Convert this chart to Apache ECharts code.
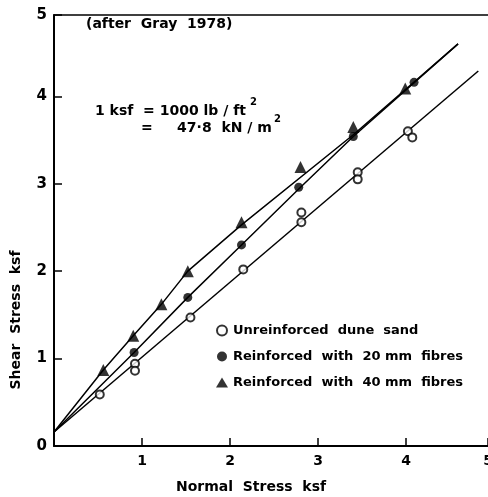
<!DOCTYPE html>
<html>
<head>
<meta charset="utf-8">
<script src="https://cdn.jsdelivr.net/npm/echarts@6/dist/echarts.min.js"></script>
<style>
  html, body { margin: 0; padding: 0; background: #fff; }
  #chart { width: 488px; height: 497px; }
</style>
</head>
<body>
<div id="chart"></div>
<script>
// measured points (normal stress, shear stress), ksf
var unX = [0.52, 0.92, 0.92, 1.55, 2.15, 2.81, 2.81, 3.45, 3.45, 4.02, 4.07];
var unY = [0.59, 0.94, 0.86, 1.47, 2.02, 2.67, 2.56, 3.13, 3.05, 3.60, 3.53];
var r20X = [0.91, 1.52, 2.13, 2.78, 3.40, 4.09];
var r20Y = [1.07, 1.70, 2.30, 2.96, 3.54, 4.16];
var r40X = [0.56, 0.90, 1.22, 1.52, 2.13, 2.80, 3.40, 3.99];
var r40Y = [0.87, 1.26, 1.62, 2.00, 2.56, 3.19, 3.65, 4.09];

// drawn fit lines
var fitUnX = [0, 4.82];
var fitUnY = [0.16, 4.29];
var fit20X = [0, 0.91, 1.52, 2.13, 2.78, 3.40, 4.59];
var fit20Y = [0.16, 1.07, 1.70, 2.30, 2.94, 3.54, 4.60];
var fit40X = [0, 0.56, 0.90, 1.22, 1.52, 2.13, 3.40, 4.59];
var fit40Y = [0.16, 0.87, 1.26, 1.62, 2.00, 2.53, 3.56, 4.60];

var legendNames = ['Unreinforced  dune  sand', 'Reinforced  with  20 mm  fibres', 'Reinforced  with  40 mm  fibres'];

function pairs(xs, ys) {
  return xs.map(function (x, i) { return [x, ys[i]]; });
}

var ink = '#000';
var font = 'DejaVu Sans';

var chart = echarts.init(document.getElementById('chart'));
var option = {
  backgroundColor: '#fff',
  animation: false,
  grid: { left: 54, right: 0, top: 15, bottom: 51, outerBoundsMode: 'none', containLabel: false },
  xAxis: [{
    type: 'value', min: 0, max: 4.93, interval: 1,
    axisLine: { lineStyle: { color: ink, width: 2 } },
    axisTick: { inside: true, length: 8, lineStyle: { color: ink, width: 1.5 } },
    splitLine: { show: false },
    axisLabel: {
      color: ink, fontSize: 14, fontFamily: font, fontWeight: 'bold', margin: 8,
      formatter: function (v) { return v === 0 ? '' : String(Math.round(v)); }
    }
  }, {
    // top frame line
    type: 'value', position: 'top', min: 0, max: 4.93,
    axisLine: { lineStyle: { color: ink, width: 1.5 } },
    axisTick: { show: false }, axisLabel: { show: false }, splitLine: { show: false }
  }],
  yAxis: {
    type: 'value', min: 0, max: 4.93, interval: 1,
    axisLine: { lineStyle: { color: ink, width: 2 } },
    axisTick: { inside: true, length: 8, lineStyle: { color: ink, width: 1.5 } },
    splitLine: { show: false },
    axisLabel: {
      color: ink, fontSize: 15, fontFamily: font, fontWeight: 'bold', margin: 7,
      formatter: function (v) { return String(Math.round(v)); }
    }
  },
  legend: {
    orient: 'vertical', left: 211, top: 319, itemGap: 13,
    itemWidth: 12, itemHeight: 10,
    textStyle: { color: ink, fontSize: 13, fontFamily: font, fontWeight: 'bold' },
    data: [
      { name: legendNames[0], icon: 'emptyCircle' },
      { name: legendNames[1], icon: 'circle' },
      { name: legendNames[2], icon: 'triangle' }
    ]
  },
  series: [
    { type: 'line', data: pairs(fitUnX, fitUnY), showSymbol: false, lineStyle: { color: ink, width: 1.5 }, z: 1 },
    { type: 'line', data: pairs(fit20X, fit20Y), showSymbol: false, lineStyle: { color: ink, width: 1.5 }, z: 1 },
    { type: 'line', data: pairs(fit40X, fit40Y), showSymbol: false, lineStyle: { color: ink, width: 1.5 }, z: 1 },
    {
      name: legendNames[0], type: 'scatter', data: pairs(unX, unY),
      symbol: 'emptyCircle', symbolSize: 8,
      itemStyle: { color: ink, borderColor: ink, borderWidth: 1.5 }, z: 3
    },
    {
      name: legendNames[1], type: 'scatter', data: pairs(r20X, r20Y),
      symbol: 'circle', symbolSize: 9, itemStyle: { color: ink }, z: 3
    },
    {
      name: legendNames[2], type: 'scatter', data: pairs(r40X, r40Y),
      symbol: 'triangle', symbolSize: 12, itemStyle: { color: ink }, z: 3
    }
  ],
  graphic: [
    { type: 'text', left: 86, top: 17, style: { text: '(after  Gray  1978)', fill: ink, font: 'bold 14px ' + font } },
    { type: 'text', left: 95, top: 104, style: { text: '1 ksf  = 1000 lb / ft', fill: ink, font: 'bold 14px ' + font } },
    { type: 'text', left: 250, top: 97, style: { text: '2', fill: ink, font: 'bold 10px ' + font } },
    { type: 'text', left: 141, top: 121, style: { text: '=     47·8  kN / m', fill: ink, font: 'bold 14px ' + font } },
    { type: 'text', left: 274, top: 114, style: { text: '2', fill: ink, font: 'bold 10px ' + font } },
    {
      type: 'text', x: 16, y: 320, rotation: Math.PI / 2,
      style: { text: 'Shear  Stress  ksf', fill: ink, font: 'bold 14px ' + font, align: 'center', verticalAlign: 'middle' }
    },
    {
      type: 'text', x: 251, y: 487,
      style: { text: 'Normal  Stress  ksf', fill: ink, font: 'bold 14px ' + font, align: 'center', verticalAlign: 'middle' }
    }
  ]
};
chart.setOption(option);
</script>
</body>
</html>
